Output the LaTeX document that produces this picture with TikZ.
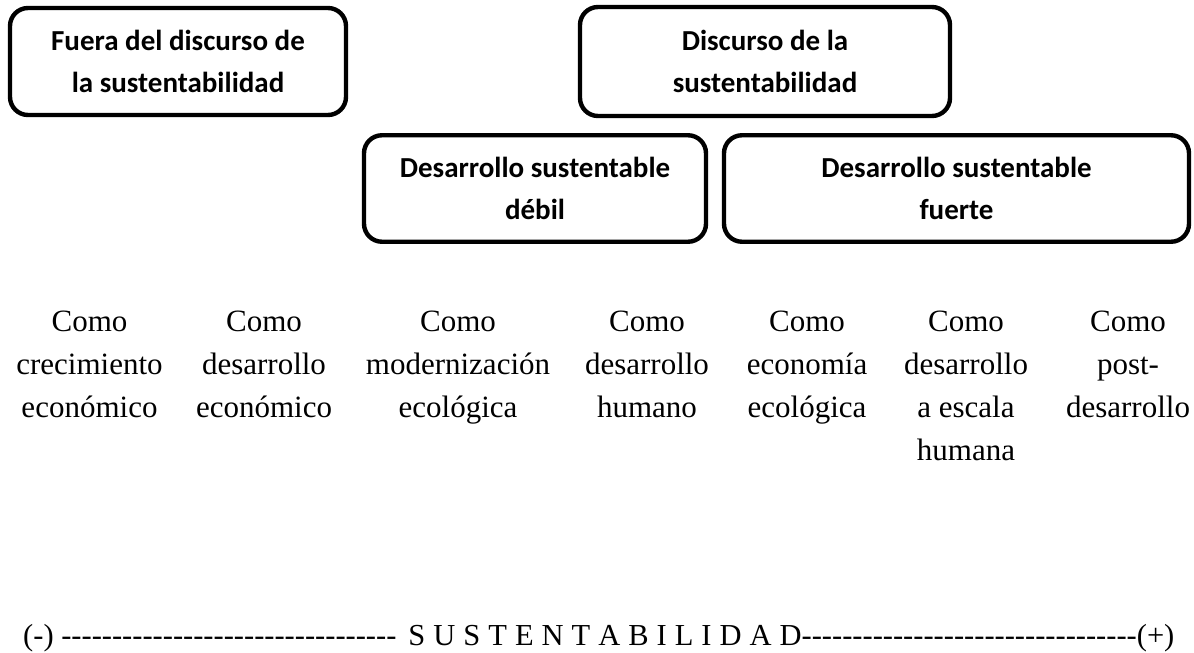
\documentclass[tikz,border=0pt]{standalone}
\usepackage{fontspec}
\setmainfont{Liberation Serif}
\newfontfamily\boxfont{Carlito}
\newcommand\dashrun[1]{\foreach \i in {1,...,#1}{\mbox{-}}}
\newcommand\letgap{\hskip 8pt}
\begin{document}
\begin{tikzpicture}[x=1pt,y=-1pt,
  box/.style={draw, line width=4.4pt, rounded corners=18pt, align=center,
    font=\boxfont\bfseries\fontsize{29}{41.5}\selectfont, inner sep=0pt},
  col/.style={align=center, font=\fontsize{31}{43}\selectfont, inner sep=0pt, anchor=north},
  axisline/.style={font=\fontsize{30.5}{36}\selectfont, inner sep=0pt, anchor=base west}]
\useasboundingbox (0,0) rectangle (1194,653);
\node[box, minimum width=336pt, minimum height=107pt] (b1) at (178,61.5)
  {Fuera del discurso de\\la sustentabilidad};
\node[box, minimum width=370pt, minimum height=109pt] (b2) at (765,61.5)
  {Discurso de la\\sustentabilidad};
\node[box, minimum width=342pt, minimum height=106.5pt] (b3) at (535,188.5)
  {Desarrollo sustentable\\d\'ebil};
\node[box, minimum width=465pt, minimum height=106.5pt] (b4) at (956.5,188.5)
  {Desarrollo sustentable\\fuerte};
\node[col] (c1) at (89.5,311) {Como\\crecimiento\\económico};
\node[col] (c2) at (264,311) {Como\\desarrollo\\económico};
\node[col] (c3) at (458,311) {Como\\modernización\\ecológica};
\node[col] (c4) at (647,311) {Como\\desarrollo\\humano};
\node[col] (c5) at (807,311) {Como\\economía\\ecológica};
\node[col] (c6) at (966,311) {Como\\desarrollo\\a escala\\humana};
\node[col] (c7) at (1128,311) {Como\\post-\\desarrollo};
\node[axisline] (axis) at (23,645) {(-) \dashrun{33}\hskip 12pt S\letgap U\letgap S\letgap T\letgap E\letgap N\letgap T\letgap A\letgap B\letgap I\letgap L\letgap I\letgap D\letgap A\letgap D\dashrun{33}(+)};
\end{tikzpicture}
\end{document}
